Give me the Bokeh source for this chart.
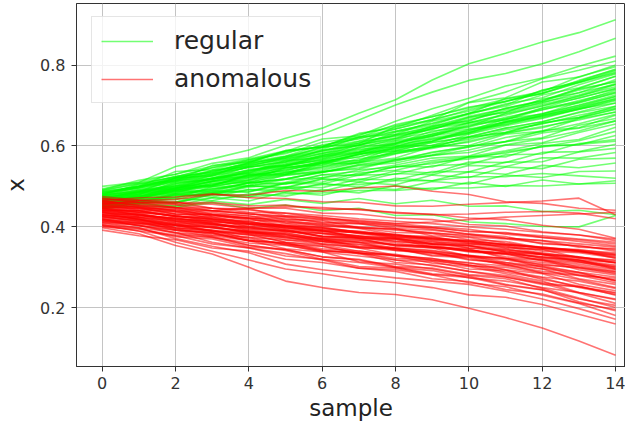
from bokeh.plotting import figure
from bokeh.models import Range1d
from bokeh.embed import file_html
from bokeh.resources import INLINE

sample = list(range(15))
x_ticks = [0, 2, 4, 6, 8, 10, 12, 14]
y_ticks = [0.2, 0.4, 0.6, 0.8]

regular = [
    [.500, .510, .549, .568, .590, .619, .644, .681, .714, .763, .803, .829, .857, .880, .912],
    [.492, .515, .530, .557, .571, .602, .629, .664, .701, .733, .762, .779, .803, .833, .866],
    [.486, .500, .537, .541, .565, .586, .617, .625, .661, .692, .718, .748, .768, .797, .822],
    [.478, .506, .514, .552, .560, .587, .598, .631, .645, .676, .708, .733, .766, .787, .810],
    [.470, .487, .521, .526, .559, .570, .597, .606, .648, .664, .707, .719, .758, .770, .800],
    [.482, .501, .512, .539, .556, .574, .592, .622, .629, .661, .680, .717, .734, .771, .796],
    [.466, .480, .506, .528, .548, .561, .590, .601, .634, .651, .681, .701, .738, .757, .786],
    [.476, .499, .520, .537, .558, .589, .596, .619, .636, .655, .678, .704, .719, .751, .778],
    [.460, .486, .497, .522, .534, .560, .575, .603, .618, .649, .662, .694, .711, .742, .772],
    [.488, .499, .521, .540, .549, .572, .588, .611, .624, .640, .671, .683, .716, .731, .764],
    [.456, .481, .490, .513, .538, .549, .567, .596, .606, .637, .648, .681, .703, .722, .752],
    [.472, .480, .511, .517, .536, .564, .571, .598, .614, .643, .657, .679, .698, .724, .746],
    [.468, .489, .494, .520, .524, .550, .573, .585, .607, .624, .653, .665, .693, .709, .738],
    [.480, .487, .515, .520, .549, .551, .577, .592, .598, .625, .637, .667, .679, .708, .730],
    [.458, .476, .483, .510, .515, .547, .553, .580, .591, .612, .641, .652, .676, .697, .722],
    [.462, .473, .497, .501, .530, .531, .560, .564, .597, .601, .629, .650, .668, .691, .714],
    [.476, .490, .498, .517, .531, .546, .558, .579, .588, .609, .623, .644, .660, .684, .706],
    [.452, .470, .486, .499, .516, .530, .548, .561, .586, .596, .622, .633, .657, .671, .698],
    [.470, .474, .502, .502, .527, .529, .557, .557, .580, .597, .609, .631, .645, .669, .692],
    [.448, .469, .471, .499, .503, .528, .540, .559, .570, .598, .601, .629, .636, .667, .684],
    [.466, .477, .486, .503, .510, .530, .536, .554, .567, .583, .600, .611, .638, .645, .676],
    [.458, .466, .483, .492, .509, .518, .537, .543, .565, .576, .590, .611, .620, .651, .668],
    [.472, .485, .490, .507, .511, .527, .535, .551, .558, .577, .584, .603, .618, .637, .662],
    [.450, .462, .476, .485, .502, .510, .529, .537, .553, .570, .575, .602, .608, .633, .654],
    [.462, .469, .482, .495, .501, .517, .521, .541, .548, .564, .573, .588, .606, .616, .646],
    [.446, .460, .461, .486, .487, .509, .511, .533, .540, .560, .568, .585, .598, .613, .636],
    [.468, .470, .491, .487, .510, .506, .529, .527, .550, .548, .574, .573, .601, .603, .626],
    [.455, .468, .467, .490, .486, .508, .506, .528, .530, .551, .555, .578, .580, .606, .616],
    [.460, .463, .482, .479, .501, .498, .519, .516, .538, .533, .560, .559, .584, .586, .604],
    [.448, .461, .459, .481, .478, .499, .497, .518, .516, .537, .536, .560, .561, .585, .594],
    [.470, .470, .488, .483, .502, .496, .518, .511, .532, .529, .552, .549, .571, .570, .584],
    [.452, .463, .459, .480, .474, .496, .488, .510, .504, .528, .522, .548, .544, .567, .570],
    [.462, .461, .480, .474, .492, .486, .508, .498, .520, .514, .536, .530, .552, .546, .558],
    [.445, .456, .452, .472, .464, .486, .478, .498, .492, .512, .506, .528, .522, .537, .538],
    [.458, .457, .471, .465, .482, .476, .492, .484, .502, .492, .510, .500, .516, .506, .514],
    [.450, .458, .450, .464, .455, .468, .458, .470, .457, .466, .451, .452, .438, .441, .430],
    [.445, .452, .448, .460, .446, .454, .440, .446, .428, .430, .412, .408, .401, .400, .428],
    [.484, .496, .518, .533, .552, .568, .582, .606, .627, .648, .673, .692, .713, .741, .758],
    [.474, .492, .501, .527, .539, .556, .577, .589, .613, .628, .657, .668, .694, .719, .741],
    [.464, .479, .495, .512, .521, .544, .561, .578, .603, .617, .633, .661, .678, .701, .726],
    [.480, .503, .525, .534, .561, .575, .603, .617, .642, .663, .690, .711, .729, .758, .782],
    [.456, .471, .492, .503, .528, .538, .563, .572, .599, .611, .638, .659, .675, .693, .718],
    [.490, .508, .523, .546, .566, .581, .609, .621, .653, .672, .696, .709, .737, .760, .790],
    [.468, .483, .506, .519, .534, .555, .569, .584, .606, .630, .646, .671, .689, .712, .734],
    [.452, .463, .478, .494, .508, .519, .534, .553, .562, .585, .597, .621, .635, .655, .678],
    [.478, .496, .510, .532, .546, .564, .580, .602, .620, .644, .662, .688, .706, .732, .752],
    [.486, .500, .522, .536, .556, .574, .596, .612, .636, .656, .680, .698, .726, .744, .772],
    [.462, .476, .494, .513, .526, .540, .558, .581, .594, .612, .632, .657, .672, .690, .712],
    [.470, .486, .500, .518, .542, .552, .566, .584, .604, .628, .642, .660, .680, .700, .722],
    [.494, .510, .530, .550, .568, .588, .598, .628, .650, .672, .694, .716, .730, .762, .788],
    [.458, .470, .490, .500, .514, .534, .544, .560, .582, .594, .612, .632, .648, .664, .684],
    [.474, .486, .508, .518, .540, .552, .574, .586, .610, .624, .650, .664, .690, .706, .732],
    [.482, .498, .518, .530, .554, .570, .586, .608, .628, .646, .670, .692, .710, .738, .760],
    [.466, .482, .494, .512, .524, .542, .556, .574, .588, .608, .622, .644, .660, .682, .698],
    [.450, .462, .480, .490, .508, .518, .536, .546, .566, .578, .598, .610, .632, .644, .662],
    [.490, .506, .524, .546, .562, .584, .600, .622, .642, .666, .686, .710, .730, .756, .780],
    [.472, .488, .502, .520, .532, .552, .564, .584, .598, .620, .634, .658, .674, .696, .716],
    [.460, .474, .492, .504, .522, .534, .552, .564, .586, .598, .620, .634, .656, .670, .690],
    [.484, .496, .516, .530, .552, .566, .588, .602, .626, .642, .666, .684, .708, .726, .754],
    [.468, .484, .496, .514, .528, .546, .560, .580, .594, .616, .630, .654, .670, .692, .706],
    [.448, .458, .474, .482, .498, .506, .522, .530, .548, .556, .572, .582, .598, .604, .612],
    [.456, .464, .478, .480, .492, .494, .504, .504, .514, .514, .524, .524, .532, .526, .520],
    [.454, .460, .462, .472, .474, .482, .484, .490, .490, .496, .496, .502, .501, .506, .508],
    [.476, .492, .514, .526, .548, .560, .582, .594, .618, .634, .658, .676, .700, .718, .742],
    [.464, .476, .488, .506, .518, .536, .548, .568, .582, .602, .616, .640, .654, .676, .694],
]

anomalous = [
    [.398, .383, .354, .333, .300, .266, .250, .238, .233, .220, .199, .176, .150, .118, .083],
    [.402, .390, .362, .340, .318, .296, .284, .270, .262, .250, .232, .226, .208, .184, .160],
    [.410, .398, .371, .352, .336, .308, .294, .285, .274, .266, .258, .241, .222, .198, .172],
    [.415, .404, .386, .362, .348, .334, .318, .298, .294, .281, .262, .252, .231, .211, .181],
    [.420, .402, .392, .376, .355, .342, .320, .312, .300, .284, .278, .258, .245, .215, .193],
    [.425, .414, .394, .384, .366, .346, .338, .314, .308, .296, .280, .272, .248, .224, .201],
    [.430, .420, .398, .392, .370, .358, .342, .334, .312, .306, .290, .276, .260, .236, .211],
    [.436, .418, .408, .390, .382, .362, .352, .336, .328, .310, .302, .284, .266, .238, .222],
    [.441, .430, .410, .402, .384, .375, .358, .348, .330, .322, .306, .294, .270, .254, .231],
    [.412, .408, .396, .380, .374, .356, .352, .334, .332, .318, .312, .294, .284, .258, .242],
    [.446, .428, .422, .410, .392, .386, .368, .362, .342, .338, .320, .308, .286, .270, .250],
    [.428, .424, .406, .400, .388, .372, .368, .350, .346, .328, .324, .306, .296, .272, .258],
    [.451, .440, .426, .418, .400, .394, .376, .372, .352, .348, .328, .322, .300, .288, .266],
    [.418, .410, .404, .390, .384, .368, .364, .348, .346, .330, .328, .308, .302, .280, .273],
    [.456, .442, .438, .420, .414, .396, .392, .372, .370, .350, .346, .322, .318, .294, .281],
    [.438, .428, .422, .408, .398, .392, .376, .374, .360, .350, .344, .326, .320, .300, .289],
    [.461, .448, .444, .426, .420, .402, .398, .384, .372, .364, .348, .340, .322, .314, .296],
    [.432, .430, .418, .414, .402, .398, .384, .378, .372, .358, .354, .338, .332, .314, .303],
    [.466, .452, .448, .432, .428, .410, .404, .396, .380, .376, .360, .352, .334, .326, .310],
    [.442, .440, .426, .424, .412, .404, .400, .386, .382, .368, .364, .348, .344, .324, .318],
    [.471, .460, .454, .440, .434, .418, .416, .398, .396, .378, .374, .360, .348, .340, .325],
    [.448, .446, .432, .430, .416, .414, .402, .398, .386, .384, .368, .364, .348, .344, .332],
    [.475, .466, .462, .446, .444, .428, .424, .412, .404, .394, .382, .376, .358, .354, .340],
    [.452, .450, .440, .436, .426, .424, .410, .408, .396, .392, .382, .372, .366, .350, .346],
    [.462, .460, .448, .446, .436, .434, .422, .416, .408, .400, .394, .382, .374, .364, .353],
    [.440, .440, .432, .430, .422, .420, .412, .408, .400, .398, .388, .386, .374, .368, .358],
    [.468, .466, .458, .456, .446, .446, .434, .432, .422, .418, .406, .402, .388, .380, .366],
    [.458, .461, .460, .460, .452, .454, .444, .444, .434, .432, .422, .418, .404, .394, .372],
    [.455, .466, .468, .480, .478, .490, .488, .496, .501, .488, .480, .462, .458, .446, .441],
    [.465, .472, .474, .482, .472, .470, .462, .461, .452, .451, .456, .460, .464, .471, .430],
    [.426, .414, .404, .388, .380, .362, .356, .340, .330, .316, .306, .288, .274, .250, .233],
    [.436, .424, .414, .398, .390, .376, .370, .352, .348, .336, .330, .312, .304, .288, .276],
    [.448, .436, .428, .412, .408, .392, .390, .376, .372, .358, .354, .338, .332, .318, .312],
    [.405, .390, .378, .358, .348, .328, .320, .302, .298, .282, .275, .256, .244, .222, .206],
    [.392, .378, .368, .348, .340, .320, .312, .298, .290, .272, .265, .245, .234, .212, .196],
    [.432, .418, .398, .386, .366, .356, .338, .328, .318, .304, .290, .280, .262, .252, .238],
    [.444, .434, .416, .408, .390, .382, .364, .358, .344, .336, .318, .312, .296, .286, .268],
    [.420, .412, .392, .384, .366, .360, .342, .336, .318, .314, .296, .292, .276, .266, .248],
    [.458, .448, .432, .424, .410, .400, .388, .378, .364, .356, .340, .334, .316, .308, .294],
    [.438, .432, .414, .410, .396, .390, .376, .370, .356, .352, .338, .332, .318, .312, .300],
    [.404, .396, .376, .370, .350, .344, .326, .320, .302, .298, .282, .276, .258, .252, .236],
    [.426, .420, .404, .398, .386, .380, .366, .362, .348, .342, .328, .322, .306, .300, .286],
    [.464, .452, .440, .430, .420, .408, .398, .388, .376, .366, .354, .346, .332, .322, .312],
    [.414, .404, .384, .374, .354, .344, .326, .318, .300, .292, .274, .266, .250, .238, .220],
    [.446, .440, .426, .420, .408, .402, .390, .386, .374, .370, .358, .354, .340, .336, .324],
    [.430, .424, .414, .405, .398, .390, .384, .376, .370, .362, .358, .350, .344, .338, .330],
    [.452, .444, .436, .428, .422, .412, .408, .398, .394, .384, .380, .372, .366, .358, .350],
    [.418, .410, .402, .392, .386, .378, .372, .362, .356, .348, .342, .334, .326, .316, .306],
    [.440, .432, .420, .416, .406, .400, .390, .386, .376, .372, .362, .356, .346, .340, .332],
    [.464, .456, .448, .440, .432, .426, .418, .410, .404, .398, .390, .384, .378, .370, .362],
    [.422, .416, .404, .398, .388, .382, .370, .366, .354, .350, .340, .334, .324, .318, .296],
    [.436, .426, .418, .406, .400, .388, .384, .372, .368, .358, .352, .342, .336, .324, .316],
    [.410, .404, .392, .386, .374, .368, .358, .350, .342, .334, .326, .318, .308, .298, .284],
    [.456, .448, .438, .432, .422, .416, .406, .400, .392, .386, .376, .370, .360, .352, .344],
    [.428, .422, .410, .406, .394, .390, .378, .374, .364, .358, .348, .344, .332, .326, .312],
    [.400, .394, .380, .374, .360, .354, .340, .336, .322, .318, .304, .300, .286, .280, .262],
    [.446, .436, .428, .418, .412, .402, .396, .388, .380, .372, .366, .356, .350, .340, .328],
    [.470, .462, .456, .446, .442, .434, .428, .420, .414, .408, .400, .394, .386, .380, .370],
    [.416, .408, .398, .390, .380, .374, .364, .356, .348, .340, .330, .322, .312, .304, .290],
    [.434, .430, .420, .414, .406, .398, .394, .384, .380, .370, .366, .356, .350, .342, .336],
    [.460, .454, .446, .440, .432, .426, .420, .414, .408, .412, .418, .424, .428, .432, .436],
    [.450, .446, .442, .440, .446, .450, .448, .442, .436, .430, .432, .436, .438, .434, .420],
    [.424, .418, .406, .400, .388, .384, .372, .368, .356, .352, .342, .336, .326, .318, .300],
    [.442, .436, .426, .420, .408, .404, .392, .390, .378, .374, .364, .358, .348, .342, .322],
    [.406, .398, .386, .378, .366, .360, .346, .340, .328, .322, .310, .304, .290, .282, .268],
]

FONT = "DejaVu Sans"

p = figure(width=625, height=423, output_backend="svg", toolbar_location=None,
           x_range=Range1d(-0.70, 14.27), y_range=Range1d(0.055, 0.952),
           min_border_left=76, min_border_right=0, min_border_top=3, min_border_bottom=56,
           background_fill_color="white", border_fill_color="white")

p.multi_line(xs=[sample] * len(regular), ys=regular, line_color="#00ff00",
             line_alpha=0.55, line_width=1.6, legend_label="regular")
p.multi_line(xs=[sample] * len(anomalous), ys=anomalous, line_color="#ff0000",
             line_alpha=0.55, line_width=1.6, legend_label="anomalous")

p.outline_line_color = "#333333"
p.outline_line_width = 1

for ax in (p.xaxis[0], p.yaxis[0]):
    ax.axis_line_color = "#333333"
    ax.major_tick_line_color = "#333333"
    ax.major_tick_in = 0
    ax.major_tick_out = 5
    ax.minor_tick_line_color = None
    ax.major_label_text_font = FONT
    ax.major_label_text_font_size = "16px"
    ax.major_label_text_color = "#333333"
    ax.axis_label_text_font = FONT
    ax.axis_label_text_font_size = "23px"
    ax.axis_label_text_font_style = "normal"
    ax.axis_label_text_color = "#222222"

p.xaxis.ticker = x_ticks
p.yaxis.ticker = y_ticks
p.xaxis.axis_label = "sample"
p.yaxis.axis_label = "x"
p.xaxis.major_label_standoff = 5
p.xaxis.axis_label_standoff = 3
p.yaxis.major_label_standoff = 6
p.yaxis.axis_label_standoff = 8

p.grid.grid_line_color = "#c4c4c4"
p.grid.grid_line_width = 1

lg = p.legend[0]
lg.location = (15, 263)
lg.label_text_font = FONT
lg.label_text_font_size = "25px"
lg.label_text_color = "#262626"
lg.glyph_width = 52
lg.glyph_height = 28
lg.label_height = 28
lg.label_standoff = 21
lg.spacing = 9
lg.padding = 9
lg.margin = 0
lg.border_line_color = "#cccccc"
lg.border_line_width = 1
lg.background_fill_color = "white"
lg.background_fill_alpha = 0.8

open("out.html", "w").write(file_html(p, INLINE))
